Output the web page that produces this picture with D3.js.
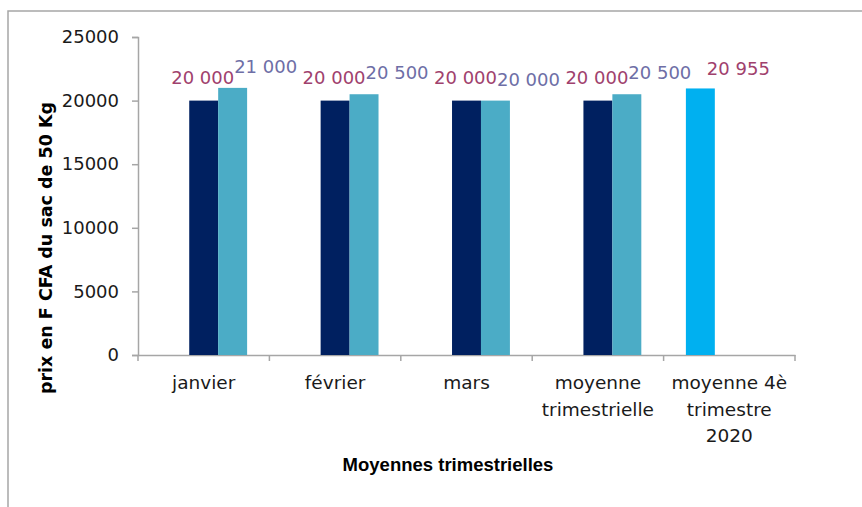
<!DOCTYPE html>
<html>
<head>
<meta charset="utf-8">
<script src="https://cdn.jsdelivr.net/npm/d3@7"></script>
<style>
  body { margin: 0; background: #fff; }
  #svg-container { width: 862px; height: 507px; }
  text { font-family: "DejaVu Sans", sans-serif; }
</style>
</head>
<body>
<div id="svg-container"></div>
<script>
// data
const categories = ["janvier", "février", "mars", "moyenne trimestrielle", "moyenne 4è trimestre 2020"];
const seriesNames = ["4è trimestre 2020", "prix 1", "prix 2"];
const values4T2020 = [null, null, null, null, 20955];
const valuesPrix1 = [20000, 20000, 20000, 20000, null];
const valuesPrix2 = [21000, 20500, 20000, 20500, null];
const yTicks = [0, 5000, 10000, 15000, 20000, 25000];

const seriesValues = [values4T2020, valuesPrix1, valuesPrix2];
const barColor = ["#00B0F0", "#002060", "#4BACC6"];
const labelColor = ["#A0416D", "#A0416D", "#6E6EA6"];
// label offsets from bar top centre, per series
const labelDx = [38, -1, 33];
const labelDy = [-13, -17, -15];

const width = 862;
const height = 507;
const margin = { top: 37, right: 67, bottom: 152, left: 138 };

const svg = d3.select("#svg-container").append("svg")
  .attr("width", width).attr("height", height);

// outer chart border
svg.append("rect")
  .attr("x", 8).attr("y", 11)
  .attr("width", 900).attr("height", 600)
  .attr("fill", "none").attr("stroke", "#A6A6A6").attr("stroke-width", 1.5);

const xScale = d3.scaleBand().domain(categories)
  .range([margin.left, width - margin.right]).padding(0);
const x1 = d3.scaleBand().domain(seriesNames)
  .range([0, xScale.bandwidth()]).paddingInner(0).paddingOuter(0.77);
const yScale = d3.scaleLinear().domain([0, 25000])
  .range([height - margin.bottom, margin.top]);

// y axis
const yAxis = d3.axisLeft(yScale).tickValues(yTicks).tickSize(6).tickPadding(13)
  .tickFormat(d3.format("d"));
const gy = svg.append("g")
  .attr("transform", `translate(${margin.left},0)`)
  .call(yAxis);
gy.select(".domain").attr("stroke", "#A6A6A6").attr("stroke-width", 1.5);
gy.selectAll(".tick line").attr("stroke", "#A6A6A6").attr("stroke-width", 1.5);
gy.selectAll(".tick text").attr("font-size", 18).attr("fill", "#1a1a1a")
  .attr("font-family", "DejaVu Sans");

// x axis
const xAxis = d3.axisBottom(xScale).tickSize(0).tickSizeOuter(0).tickFormat("");
const gx = svg.append("g")
  .attr("transform", `translate(0,${height - margin.bottom})`)
  .call(xAxis);
gx.select(".domain").attr("stroke", "#A6A6A6").attr("stroke-width", 1.5);
gx.selectAll(".tick").remove();
// category boundary ticks
const bounds = categories.map((c) => xScale(c)).concat([xScale(categories[categories.length - 1]) + xScale.bandwidth()]);
gx.selectAll(".bound")
  .data(bounds)
  .enter()
  .append("line")
  .attr("x1", (d) => d).attr("x2", (d) => d)
  .attr("y1", 0).attr("y2", 6)
  .attr("stroke", "#A6A6A6").attr("stroke-width", 1.5);

// category labels with wrapping
function wrapWords(text, maxW, fontSize) {
  const words = text.split(" ");
  const tmp = svg.append("text").attr("font-size", fontSize);
  const lines = [];
  let line = [];
  words.forEach((w) => {
    const test = line.concat([w]).join(" ");
    tmp.text(test);
    if (tmp.node().getComputedTextLength() > maxW && line.length) {
      lines.push(line.join(" "));
      line = [w];
    } else {
      line.push(w);
    }
  });
  lines.push(line.join(" "));
  tmp.remove();
  return lines;
}

categories.forEach((c) => {
  const lines = wrapWords(c, 126, 18.5);
  const t = svg.append("text")
    .attr("text-anchor", "middle")
    .attr("font-size", 18.5)
    .attr("fill", "#1a1a1a");
  lines.forEach((l, i) => {
    t.append("tspan")
      .attr("x", xScale(c) + xScale.bandwidth() / 2)
      .attr("y", height - margin.bottom + 34 + i * 26.5)
      .text(l);
  });
});

// bars
const fmt = (v) => d3.format(",")(v).replace(/,/g, " ");
seriesNames.forEach((s, si) => {
  const rows = categories
    .map((c, ci) => ({ c, v: seriesValues[si][ci] }))
    .filter((d) => d.v != null);

  svg.selectAll(".bar-" + si)
    .data(rows)
    .enter()
    .append("rect")
    .attr("class", "bar-" + si)
    .attr("x", (d) => xScale(d.c) + x1(s))
    .attr("y", (d) => yScale(d.v))
    .attr("width", x1.bandwidth())
    .attr("height", (d) => yScale(0) - yScale(d.v))
    .attr("fill", barColor[si]);

  svg.selectAll(".lbl-" + si)
    .data(rows)
    .enter()
    .append("text")
    .attr("class", "lbl-" + si)
    .attr("x", (d) => xScale(d.c) + x1(s) + x1.bandwidth() / 2 + labelDx[si])
    .attr("y", (d) => yScale(d.v) + labelDy[si])
    .attr("text-anchor", "middle")
    .attr("font-size", 18)
    .attr("fill", labelColor[si])
    .text((d) => fmt(d.v));
});

// axis titles
svg.append("text")
  .attr("transform", "translate(52,248) rotate(-90)")
  .attr("text-anchor", "middle")
  .attr("font-size", 17.5)
  .attr("font-weight", "bold")
  .attr("fill", "#000")
  .text("prix en F CFA du sac de 50 Kg");

svg.append("text")
  .attr("x", 448)
  .attr("y", 471)
  .attr("text-anchor", "middle")
  .style("font-family", "'Liberation Sans Narrow', 'Liberation Sans', sans-serif")
  .attr("font-size", 18.5)
  .attr("font-weight", "bold")
  .attr("fill", "#000")
  .text("Moyennes trimestrielles");
</script>
</body>
</html>
